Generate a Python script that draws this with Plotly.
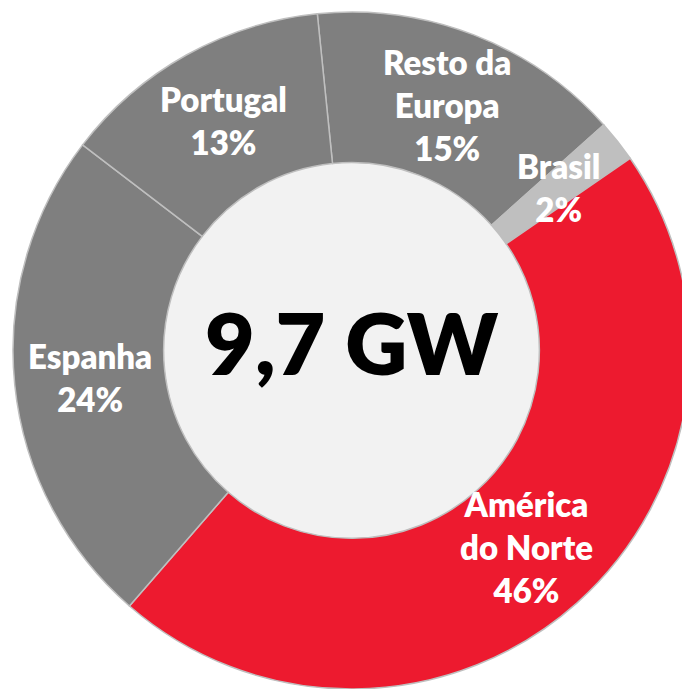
import math
import plotly.graph_objects as go

categories = ["Resto da<br>Europa", "Brasil", "América<br>do Norte", "Espanha", "Portugal"]
shares = [15, 2, 46, 24, 13]
colors = ["#7F7F7F", "#BFBFBF", "#ED1A2F", "#7F7F7F", "#7F7F7F"]
center_text = "9,7 GW"

START = 354.2  # degrees clockwise from 12 o'clock
HOLE = 0.555
FONT = "Lato"

fig = go.Figure(go.Pie(
    labels=categories,
    values=shares,
    sort=False,
    direction="clockwise",
    rotation=START - 360,
    hole=HOLE,
    marker=dict(colors=colors, line=dict(color="#BFBFBF", width=1.5)),
    textinfo="none",
    hoverinfo="label+percent",
    showlegend=False,
    domain=dict(x=[0, 1], y=[0, 1]),
))

# labels at slice mid-angles in the middle of the ring
total = sum(shares)
cum = 0
r_lab = 0.5 * (HOLE + 1) / 2
annotations = []
for cat, v in zip(categories, shares):
    mid = START + (cum + v / 2) / total * 360
    cum += v
    a = math.radians(mid)
    annotations.append(dict(
        x=0.5 + r_lab * math.sin(a), y=0.5 + r_lab * math.cos(a),
        xref="paper", yref="paper", showarrow=False,
        text=f"{cat}<br>{round(v)}%",
        font=dict(family=FONT, size=33, color="white", weight=800),
        xanchor="center", yanchor="middle",
    ))

annotations.append(dict(
    x=0.5, y=0.513, xref="paper", yref="paper", showarrow=False,
    text=center_text,
    font=dict(family=FONT, size=86, color="black", weight=800),
    xanchor="center", yanchor="middle",
))

hr = HOLE / 2
# page body has an 8px default margin, so the figure is shrunk by 8px and margins reduced
fig.update_layout(
    width=682, height=681,
    margin=dict(l=5, r=0, t=4, b=0),
    paper_bgcolor="white",
    plot_bgcolor="white",
    annotations=annotations,
    shapes=[dict(type="circle", xref="paper", yref="paper",
                 x0=0.5 - hr, x1=0.5 + hr, y0=0.5 - hr, y1=0.5 + hr,
                 fillcolor="#F2F2F2", line=dict(width=0), layer="below")],
)

fig.write_html("out.html")
